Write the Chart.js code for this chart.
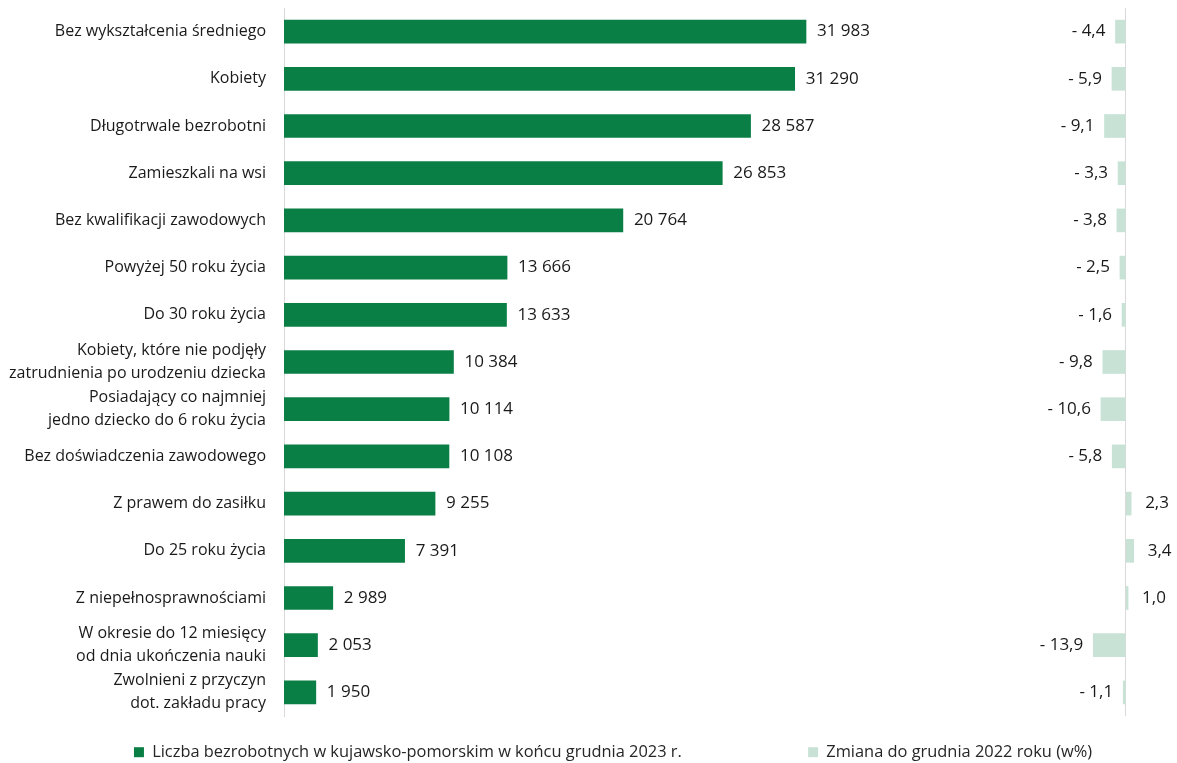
<!DOCTYPE html>
<html>
<head>
<meta charset="utf-8">
<script src="https://cdn.jsdelivr.net/npm/chart.js@4.4.1/dist/chart.umd.min.js"></script>
<style>
  html, body { margin: 0; padding: 0; background: #fff; }
  #wrap { width: 1177px; height: 763px; }
</style>
</head>
<body>
<div id="wrap"><canvas id="chart" width="1177" height="763"></canvas></div>
<script>
const categories = [
  'Bez wykształcenia średniego',
  'Kobiety',
  'Długotrwale bezrobotni',
  'Zamieszkali na wsi',
  'Bez kwalifikacji zawodowych',
  'Powyżej 50 roku życia',
  'Do 30 roku życia',
  ['Kobiety, które nie podjęły', 'zatrudnienia po urodzeniu dziecka'],
  ['Posiadający co najmniej', 'jedno dziecko do 6 roku życia'],
  'Bez doświadczenia zawodowego',
  'Z prawem do zasiłku',
  'Do 25 roku życia',
  'Z niepełnosprawnościami',
  ['W okresie do 12 miesięcy', 'od dnia ukończenia nauki'],
  ['Zwolnieni z przyczyn', 'dot. zakładu pracy']
];
const unemployed = [31983, 31290, 28587, 26853, 20764, 13666, 13633, 10384, 10114, 10108, 9255, 7391, 2989, 2053, 1950];
const changePct = [-4.4, -5.9, -9.1, -3.3, -3.8, -2.5, -1.6, -9.8, -10.6, -5.8, 2.3, 3.4, 1.0, -13.9, -1.1];
const seriesNames = [
  'Liczba bezrobotnych w kujawsko-pomorskim w końcu grudnia 2023 r.',
  'Zmiana do grudnia 2022 roku (w%)'
];

const FONT = 'Open Sans';
const TEXT = '#1a1a1a';
const LEGEND_SHIFT = 28;

function fmtInt(v) {
  return String(v).replace(/\B(?=(\d{3})+(?!\d))/g, ' ');
}
function fmtPct(v) {
  return (v < 0 ? '- ' : '') + Math.abs(v).toFixed(1).replace('.', ',');
}

// data labels next to the bars
const valueLabels = {
  id: 'valueLabels',
  afterDatasetsDraw(chart) {
    const ctx = chart.ctx;
    ctx.save();
    ctx.font = '17px "' + FONT + '"';
    ctx.fillStyle = TEXT;
    ctx.textBaseline = 'middle';
    chart.getDatasetMeta(0).data.forEach((bar, i) => {
      ctx.textAlign = 'left';
      ctx.fillText(fmtInt(unemployed[i]), bar.x + 11, bar.y);
    });
    chart.getDatasetMeta(1).data.forEach((bar, i) => {
      const v = changePct[i];
      if (v < 0) {
        ctx.textAlign = 'right';
        ctx.fillText(fmtPct(v), bar.x - 10, bar.y);
      } else {
        ctx.textAlign = 'left';
        ctx.fillText(fmtPct(v), bar.x + 14, bar.y);
      }
    });
    ctx.restore();
  }
};

// legend sits a bit right of centre in the original
const legendShift = {
  id: 'legendShift',
  afterLayout(chart) {
    chart.legend.left += LEGEND_SHIFT;
    chart.legend.right += LEGEND_SHIFT;
  }
};

new Chart(document.getElementById('chart'), {
  type: 'bar',
  data: {
    labels: categories,
    datasets: [
      {
        label: seriesNames[0],
        data: unemployed,
        backgroundColor: '#0a7f45',
        xAxisID: 'x',
        grouped: false,
        barThickness: 23
      },
      {
        label: seriesNames[1],
        data: changePct,
        backgroundColor: '#c8e3d6',
        xAxisID: 'x2',
        grouped: false,
        barThickness: 23
      }
    ]
  },
  options: {
    indexAxis: 'y',
    responsive: false,
    animation: false,
    layout: { padding: { top: 8, right: 7, left: 0, bottom: 0 } },
    scales: {
      y: {
        afterFit(scale) {
          scale.width = 284;
          scale.paddingTop = 0;
          scale.paddingBottom = 0;
        },
        grid: { display: false, drawTicks: false },
        border: { display: true, color: '#d9d9d9' },
        ticks: {
          autoSkip: false,
          padding: 18,
          color: TEXT,
          font: { family: FONT, size: 16, lineHeight: 1.44 }
        }
      },
      x: {
        display: false,
        min: 0,
        max: 54285
      },
      x2: {
        position: 'bottom',
        min: -359.7,
        max: 18.9,
        afterBuildTicks(scale) { scale.ticks = [{ value: 0 }]; },
        ticks: { display: false },
        grid: { drawTicks: false, color: '#d9d9d9' },
        border: { display: false }
      }
    },
    plugins: {
      tooltip: { enabled: false },
      legend: {
        position: 'bottom',
        maxHeight: 47,
        labels: {
          boxWidth: 10,
          boxHeight: 10,
          padding: 28,
          color: '#262626',
          font: { family: FONT, size: 16.4 },
          generateLabels(chart) {
            const items = Chart.defaults.plugins.legend.labels.generateLabels(chart);
            items[0].text = items[0].text + '\u2003\u2003\u2003\u2003\u2003\u2003';
            return items;
          }
        }
      }
    }
  },
  plugins: [valueLabels, legendShift]
});
</script>
</body>
</html>
